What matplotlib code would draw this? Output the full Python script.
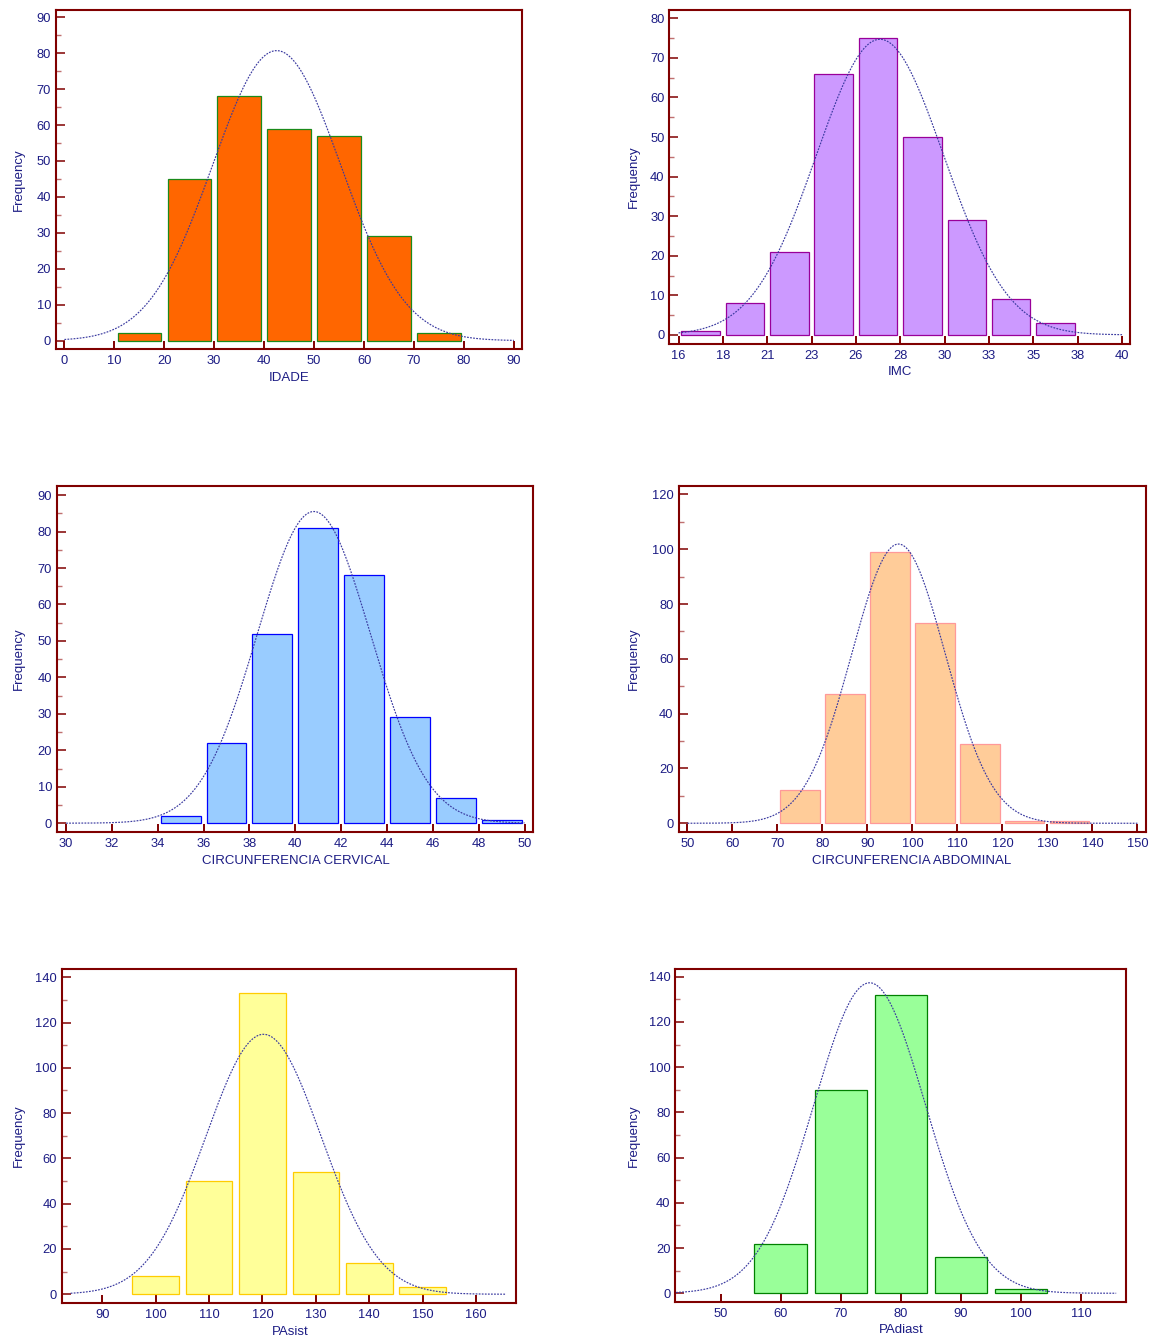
import numpy as np
import matplotlib
matplotlib.use('Agg')
import matplotlib.pyplot as plt
from matplotlib.ticker import FixedLocator, MultipleLocator

plt.rcParams['font.family'] = ['Liberation Sans', 'DejaVu Sans']

W, H, DPI = 1153, 1340, 100

# ---- data ----
idade_bins = [10, 20, 30, 40, 50, 60, 70]
idade_counts = [2, 45, 68, 59, 57, 29, 2]
idade_binw = 10
idade_fit = (42.5, 12.8, 80.7)          # mean, sd, peak height
idade_span = (0, 90)
idade_ticks = [0, 10, 20, 30, 40, 50, 60, 70, 80, 90]
idade_ticklabels = ['0', '10', '20', '30', '40', '50', '60', '70', '80', '90']

imc_bins = [16, 18.4, 20.8, 23.2, 25.6, 28, 30.4, 32.8, 35.2]
imc_counts = [1, 8, 21, 66, 75, 50, 29, 9, 3]
imc_binw = 2.4
imc_fit = (26.9, 3.45, 74.7)
imc_span = (16, 40)
imc_ticks = [16, 18.4, 20.8, 23.2, 25.6, 28, 30.4, 32.8, 35.2, 37.6, 40]
imc_ticklabels = ['16', '18', '21', '23', '26', '28', '30', '33', '35', '38', '40']

cerv_bins = [34, 36, 38, 40, 42, 44, 46, 48]
cerv_counts = [2, 22, 52, 81, 68, 29, 7, 1]
cerv_binw = 2
cerv_fit = (40.81, 2.47, 85.5)
cerv_span = (30, 50)
cerv_ticks = [30, 32, 34, 36, 38, 40, 42, 44, 46, 48, 50]
cerv_ticklabels = ['30', '32', '34', '36', '38', '40', '42', '44', '46', '48', '50']

abd_bins = [70, 80, 90, 100, 110, 120, 130]
abd_counts = [12, 47, 99, 73, 29, 1, 1]
abd_binw = 10
abd_fit = (96.9, 10.4, 101.9)
abd_span = (50, 150)
abd_ticks = [50, 60, 70, 80, 90, 100, 110, 120, 130, 140, 150]
abd_ticklabels = ['50', '60', '70', '80', '90', '100', '110', '120', '130', '140', '150']

pas_bins = [95, 105, 115, 125, 135, 145]
pas_counts = [8, 50, 133, 54, 14, 3]
pas_binw = 10
pas_fit = (120.2, 10.8, 114.8)
pas_span = (84.1, 165.5)
pas_ticks = [90, 100, 110, 120, 130, 140, 150, 160]
pas_ticklabels = ['90', '100', '110', '120', '130', '140', '150', '160']

pad_bins = [55, 65, 75, 85, 95]
pad_counts = [22, 90, 132, 16, 2]
pad_binw = 10
pad_fit = (74.8, 9.3, 137.3)
pad_span = (42.6, 115.8)
pad_ticks = [50, 60, 70, 80, 90, 100, 110]
pad_ticklabels = ['50', '60', '70', '80', '90', '100', '110']

# ---- style ----
FRAME = '#800000'
MINOR = '#c07070'
TEXT = '#1c1c84'
CURVE = '#3a3aa0'
BAR_FRAC = 0.87

panels = [
    dict(bins=idade_bins, counts=idade_counts, binw=idade_binw, fit=idade_fit, span=idade_span,
         ticks=idade_ticks, labels=idade_ticklabels, xlabel='IDADE',
         fill='#ff6600', edge='#1a8a1a',
         box=(55.9, 10, 522.4, 349.3), xlim=(-1.7, 91.7), ylim=(-2.4, 92), ystep=10,
         xl_pos=(289, 378), yl_pos=(19, 180)),
    dict(bins=imc_bins, counts=imc_counts, binw=imc_binw, fit=imc_fit, span=imc_span,
         ticks=imc_ticks, labels=imc_ticklabels, xlabel='IMC',
         fill='#cc99ff', edge='#990099',
         box=(669.3, 10, 1130.2, 344), xlim=(15.5, 40.44), ylim=(-2.3, 82.1), ystep=10,
         xl_pos=(900, 372), yl_pos=(634, 177)),
    dict(bins=cerv_bins, counts=cerv_counts, binw=cerv_binw, fit=cerv_fit, span=cerv_span,
         ticks=cerv_ticks, labels=cerv_ticklabels, xlabel='CIRCUNFERENCIA CERVICAL',
         fill='#99ccff', edge='#0000ff',
         box=(56.9, 486, 532.8, 832.3), xlim=(29.6, 50.36), ylim=(-2.5, 92.5), ystep=10,
         xl_pos=(296, 861), yl_pos=(19, 659)),
    dict(bins=abd_bins, counts=abd_counts, binw=abd_binw, fit=abd_fit, span=abd_span,
         ticks=abd_ticks, labels=abd_ticklabels, xlabel='CIRCUNFERENCIA ABDOMINAL',
         fill='#ffcc99', edge='#ff9999',
         box=(678.5, 485.7, 1145.5, 832.3), xlim=(48.0, 151.8), ylim=(-3.3, 123.2), ystep=20,
         xl_pos=(912, 861), yl_pos=(634, 659)),
    dict(bins=pas_bins, counts=pas_counts, binw=pas_binw, fit=pas_fit, span=pas_span,
         ticks=pas_ticks, labels=pas_ticklabels, xlabel='PAsist',
         fill='#ffff99', edge='#ffcc00',
         box=(62.1, 969.3, 516.2, 1303.3), xlim=(82.5, 167.5), ylim=(-4.0, 143.5), ystep=20,
         xl_pos=(290, 1332), yl_pos=(19, 1136)),
    dict(bins=pad_bins, counts=pad_counts, binw=pad_binw, fit=pad_fit, span=pad_span,
         ticks=pad_ticks, labels=pad_ticklabels, xlabel='PAdiast',
         fill='#99ff99', edge='#008000',
         box=(675.4, 969, 1125.8, 1302.3), xlim=(42.5, 117.4), ylim=(-4.0, 143.4), ystep=20,
         xl_pos=(901, 1330), yl_pos=(634, 1136)),
]

fig = plt.figure(figsize=(W / DPI, H / DPI), dpi=DPI)
fig.patch.set_facecolor('white')


def fig_xy(px, py):
    return px / W, 1 - py / H


for p in panels:
    l, t, r, b = p['box']
    ax = fig.add_axes([l / W, 1 - b / H, (r - l) / W, (b - t) / H])

    # bars
    centers = np.array(p['bins']) + p['binw'] / 2
    ax.bar(centers, p['counts'], width=p['binw'] * BAR_FRAC, color=p['fill'],
           edgecolor=p['edge'], linewidth=0.9, zorder=2)

    # fitted normal curve
    mean, sd, peak = p['fit']
    xs = np.linspace(p['span'][0], p['span'][1], 400)
    ax.plot(xs, peak * np.exp(-(xs - mean) ** 2 / (2 * sd ** 2)),
            color=CURVE, lw=0.85, ls=(0, (1.5, 1.1)), zorder=3)

    ax.set_xlim(*p['xlim'])
    ax.set_ylim(*p['ylim'])

    ax.xaxis.set_major_locator(FixedLocator(p['ticks']))
    ax.set_xticklabels(p['labels'])
    ax.yaxis.set_major_locator(MultipleLocator(p['ystep']))
    ax.yaxis.set_minor_locator(MultipleLocator(p['ystep'] / 2))

    ax.tick_params(axis='y', which='major', direction='in', length=6.2, width=1.1,
                   color=FRAME, labelcolor=TEXT, labelsize=9.3, pad=3.5)
    ax.tick_params(axis='y', which='minor', direction='in', length=3.3, width=1.0,
                   color=MINOR)
    ax.tick_params(axis='x', which='major', direction='in', length=5.6, width=1.4,
                   color=FRAME, labelcolor=TEXT, labelsize=9.3, pad=4)
    ax.tick_params(axis='x', which='minor', bottom=False)

    for s in ax.spines.values():
        s.set_color(FRAME)
        s.set_linewidth(1.5)

    fig.text(*fig_xy(*p['xl_pos']), p['xlabel'], ha='center', va='center',
             color=TEXT, fontsize=9.5)
    fig.text(*fig_xy(*p['yl_pos']), 'Frequency', ha='center', va='center',
             rotation=90, color=TEXT, fontsize=9.5)

fig.savefig('out.png', dpi=DPI, facecolor='white')
